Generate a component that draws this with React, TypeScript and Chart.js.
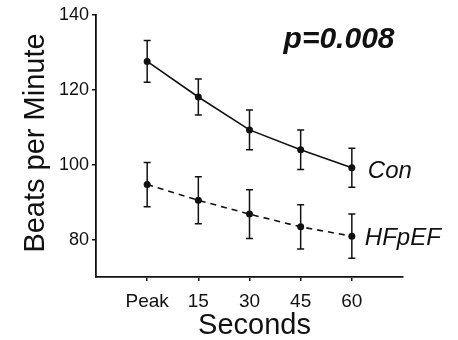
import React, { useEffect, useRef } from "react";
import { Chart, registerables } from "chart.js";

Chart.register(...registerables);

const xLabels = ["Peak", "15", "30", "45", "60"];
const xPositions = [0, 1, 2, 3, 4];
const conMean = [127.6, 118.1, 109.3, 104.0, 99.2];
const conErr = [5.6, 4.8, 5.3, 5.3, 5.2];
const hfMean = [94.7, 90.5, 86.8, 83.4, 80.9];
const hfErr = [5.9, 6.3, 6.5, 5.9, 5.9];
const yTicks = [80, 100, 120, 140];
const seriesNames = ["Con", "HFpEF"];
const pText = "p=0.008";

const FONT = "'Liberation Sans', Arial, Helvetica, sans-serif";
const INK = "#111";

const errorBarPlugin = {
  id: "errorBars",
  afterDatasetsDraw(chart: any) {
    const ctx = chart.ctx;
    const xs = chart.scales.x;
    const ys = chart.scales.y;
    const errs = [conErr, hfErr];
    const means = [conMean, hfMean];
    ctx.save();
    ctx.strokeStyle = INK;
    ctx.lineWidth = 1.5;
    for (let d = 0; d < 2; d++) {
      for (let i = 0; i < xPositions.length; i++) {
        const px = xs.getPixelForValue(xPositions[i]);
        const top = ys.getPixelForValue(means[d][i] + errs[d][i]);
        const bot = ys.getPixelForValue(means[d][i] - errs[d][i]);
        ctx.beginPath();
        ctx.moveTo(px, top);
        ctx.lineTo(px, bot);
        ctx.moveTo(px - 3.5, top);
        ctx.lineTo(px + 3.5, top);
        ctx.moveTo(px - 3.5, bot);
        ctx.lineTo(px + 3.5, bot);
        ctx.stroke();
      }
    }
    ctx.restore();
  },
};

const textPlugin = {
  id: "texts",
  afterDraw(chart: any) {
    const ctx = chart.ctx;
    const xs = chart.scales.x;
    const ys = chart.scales.y;
    const area = chart.chartArea;
    ctx.save();
    ctx.fillStyle = INK;
    // axis titles
    ctx.font = `29px ${FONT}`;
    ctx.textAlign = "center";
    ctx.textBaseline = "middle";
    ctx.fillText("Seconds", (area.left + area.right) / 2 + 5, 326);
    ctx.save();
    ctx.translate(36, (area.top + area.bottom) / 2 - 3);
    ctx.rotate(-Math.PI / 2);
    ctx.fillText("Beats per Minute", 0, 0);
    ctx.restore();
    // p value
    ctx.font = `italic bold 30px ${FONT}`;
    ctx.fillText(pText, xs.getPixelForValue(3.75), ys.getPixelForValue(133.3));
    // series labels
    ctx.font = `italic 24px ${FONT}`;
    ctx.textAlign = "left";
    const last = xPositions.length - 1;
    ctx.fillText(
      seriesNames[0],
      xs.getPixelForValue(xPositions[last]) + 16,
      ys.getPixelForValue(conMean[last]) + 4
    );
    ctx.fillText(
      seriesNames[1],
      xs.getPixelForValue(xPositions[last]) + 13,
      ys.getPixelForValue(hfMean[last]) + 2
    );
    ctx.restore();
  },
};

export default function App() {
  const ref = useRef<HTMLCanvasElement | null>(null);
  useEffect(() => {
    if (!ref.current) return;
    const chart = new Chart(ref.current, {
      type: "line",
      data: {
        datasets: [
          {
            label: seriesNames[0],
            data: xPositions.map((x, i) => ({ x, y: conMean[i] })),
            borderColor: INK,
            backgroundColor: INK,
            borderWidth: 1.6,
            pointRadius: 3.5,
            pointBackgroundColor: INK,
            pointBorderWidth: 0,
            tension: 0,
          },
          {
            label: seriesNames[1],
            data: xPositions.map((x, i) => ({ x, y: hfMean[i] })),
            borderColor: INK,
            backgroundColor: INK,
            borderWidth: 1.6,
            borderDash: [6, 5],
            pointRadius: 3.5,
            pointBackgroundColor: INK,
            pointBorderWidth: 0,
            tension: 0,
          },
        ],
      },
      options: {
        animation: false,
        responsive: false,
        devicePixelRatio: 1,
        layout: { padding: { top: 15, right: 55, left: 0, bottom: 0 } },
        plugins: {
          legend: { display: false },
          tooltip: { enabled: false },
          title: { display: false },
        },
        scales: {
          x: {
            type: "linear",
            min: -1,
            max: 5,
            afterBuildTicks: (scale: any) => {
              scale.ticks = xPositions.map((v) => ({ value: v }));
            },
            afterFit: (scale: any) => {
              scale.height = 63;
            },
            ticks: {
              autoSkip: false,
              maxRotation: 0,
              padding: 9,
              color: INK,
              font: { family: FONT, size: 19 },
              callback: (v: any) => xLabels[xPositions.indexOf(Number(v))] ?? "",
            },
            grid: {
              display: true,
              drawOnChartArea: false,
              drawTicks: true,
              tickLength: 4,
              color: INK,
              lineWidth: 1.5,
            },
            border: { display: true, color: INK, width: 1.8 },
          },
          y: {
            type: "linear",
            min: 70,
            max: 140,
            afterBuildTicks: (scale: any) => {
              scale.ticks = yTicks.map((v) => ({ value: v }));
            },
            afterFit: (scale: any) => {
              scale.width = 96;
            },
            ticks: {
              padding: 3,
              color: INK,
              font: { family: FONT, size: 18 },
            },
            grid: {
              display: true,
              drawOnChartArea: false,
              drawTicks: true,
              tickLength: 4,
              color: INK,
              lineWidth: 1.5,
            },
            border: { display: true, color: INK, width: 1.8 },
          },
        },
      },
      plugins: [errorBarPlugin, textPlugin],
    } as any);
    return () => chart.destroy();
  }, []);
  return (
    <div style={{ position: "absolute", left: 0, top: 0, width: 458, height: 340, background: "#fff" }}>
      <canvas ref={ref} width={458} height={340} style={{ width: 458, height: 340 }} />
    </div>
  );
}
